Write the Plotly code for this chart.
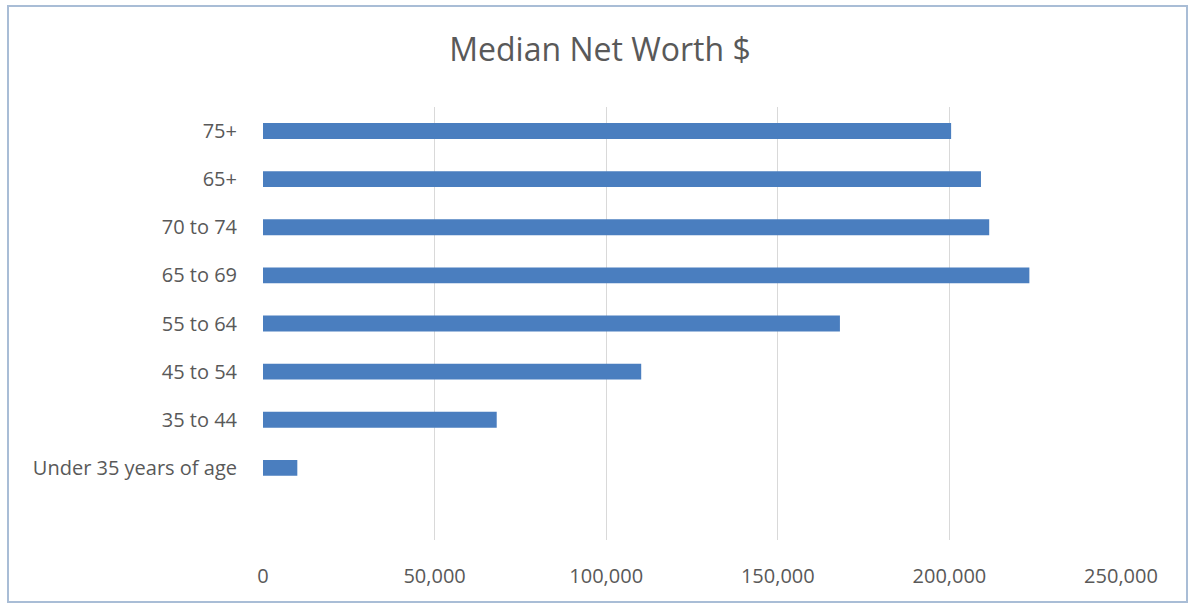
import plotly.graph_objects as go

categories = ["", "Under 35 years of age", "35 to 44", "45 to 54", "55 to 64",
              "65 to 69", "70 to 74", "65+", "75+"]
values = [None, 10000, 68100, 110200, 168100, 223300, 211600, 209200, 200500]
x_ticks = [0, 50000, 100000, 150000, 200000, 250000]
x_tick_labels = ["0", "50,000", "100,000", "150,000", "200,000", "250,000"]

FONT = "'Open Sans', Lato, sans-serif"
GREY = "#595959"

fig = go.Figure(go.Bar(
    y=categories, x=values, orientation="h",
    marker=dict(color="#4a7ebf", line=dict(width=0)),
    width=0.33,
))

L, R, T, B = 263, 69, 107, 65
W, H = 1190, 605
pw, ph = W - L - R, H - T - B

fig.update_layout(
    width=W, height=H,
    margin=dict(l=L, r=R, t=T, b=B),
    paper_bgcolor="white", plot_bgcolor="white",
    showlegend=False,
    title=dict(text="Median Net Worth $", x=600 / W, xref="container", xanchor="center",
               y=1 - 50 / H, yref="container", yanchor="middle",
               font=dict(family=FONT, size=32, color=GREY)),
    xaxis=dict(range=[0, 250000], tickvals=x_ticks, ticktext=x_tick_labels,
               showgrid=True, gridcolor="#d9d9d9", gridwidth=1,
               zeroline=False, showline=False,
               ticks="outside", ticklen=18, tickcolor="rgba(0,0,0,0)",
               tickfont=dict(family=FONT, size=20, color=GREY)),
    yaxis=dict(type="category", categoryorder="array", categoryarray=categories,
               range=[-0.5, 8.5], showgrid=False, zeroline=False, showline=False,
               ticks="outside", ticklen=21, tickcolor="rgba(0,0,0,0)",
               tickfont=dict(family=FONT, size=20, color=GREY)),
    shapes=[dict(type="rect", xref="paper", yref="paper",
                 x0=(8 - L) / pw, x1=(1187 - L) / pw,
                 y0=(H - B - 602) / ph, y1=(H - B - 6) / ph,
                 line=dict(color="#a9bdd6", width=2), fillcolor="rgba(0,0,0,0)",
                 layer="below")],
)

fig.write_html("out.html", config={"displayModeBar": False},
               post_script="document.body.style.margin='0';document.body.style.padding='0';")
